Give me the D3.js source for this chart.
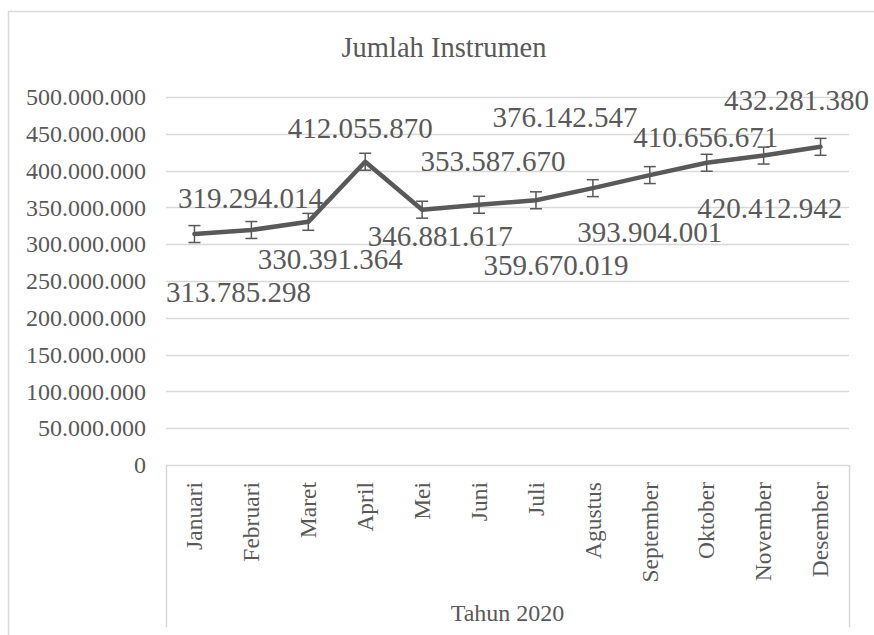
<!DOCTYPE html>
<html>
<head>
<meta charset="utf-8">
<script src="https://cdn.jsdelivr.net/npm/d3@7"></script>
<style>
  html, body { margin: 0; padding: 0; background: #ffffff; }
  svg text { font-family: "Liberation Serif", "Times New Roman", serif !important; }
</style>
</head>
<body>
<div id="chart"></div>
<script>
// Data
const months = ["Januari", "Februari", "Maret", "April", "Mei", "Juni", "Juli",
  "Agustus", "September", "Oktober", "November", "Desember"];
const instrumen = [313785298, 319294014, 330391364, 412055870, 346881617, 353587670,
  359670019, 376142547, 393904001, 410656671, 420412942, 432281380];
const errorAmount = [11500000];
const yTicks = [0, 50000000, 100000000, 150000000, 200000000, 250000000,
  300000000, 350000000, 400000000, 450000000, 500000000];
const chartTitle = "Jumlah Instrumen";
const xAxisTitle = "Tahun 2020";

// Data label nudges (pixels), labels were dragged by hand in the original
const labelShift = [[44, 58], [-1, -32], [22, 37], [-5, -34], [18, 26], [14, -44],
  [20, 65], [-28, -71], [0, 57], [-1, -26], [6, 52], [-24, -47]];

//==========================================
// Layout
//==========================================
const W = 874, H = 635;
const plot = { left: 166, right: 849, top: 97, bottom: 465 };
const ink = "#595959";
const grid = "#d9d9d9";
const serif = "'Liberation Serif', 'Times New Roman', serif";

const locale = d3.formatLocale({ decimal: ",", thousands: ".", grouping: [3], currency: ["", ""] });
const fmt = locale.format(",");

const svg = d3.select("#chart").append("svg")
  .attr("width", W)
  .attr("height", H)
  .attr("font-family", serif);

svg.append("rect")
  .attr("width", W).attr("height", H)
  .attr("fill", "#ffffff");

// Chart area border (runs off the right and bottom edges)
svg.append("rect")
  .attr("x", 8.5).attr("y", 11.5)
  .attr("width", 1000).attr("height", 1000)
  .attr("fill", "none")
  .attr("stroke", grid)
  .attr("stroke-width", 1.5);

const x = d3.scaleBand().domain(months).range([plot.left, plot.right]);
const y = d3.scaleLinear().domain([0, 500000000]).range([plot.bottom, plot.top]);
const cx = d => x(d) + x.bandwidth() / 2;

// Title
svg.append("text")
  .attr("x", 444).attr("y", 57)
  .attr("text-anchor", "middle")
  .attr("font-family", serif)
  .style("font-size", "28.5px")
  .attr("fill", ink)
  .text(chartTitle);

// Gridlines
svg.append("g")
  .selectAll("line")
  .data(yTicks)
  .enter().append("line")
  .attr("x1", plot.left).attr("x2", plot.right)
  .attr("y1", d => Math.round(y(d)) + 0.5)
  .attr("y2", d => Math.round(y(d)) + 0.5)
  .attr("stroke", grid)
  .attr("stroke-width", 1.5);

// Y axis labels
const yAxis = svg.append("g")
  .attr("transform", `translate(${plot.left - 20},0)`)
  .call(d3.axisLeft(y).tickValues(yTicks).tickSize(0).tickPadding(0).tickFormat(fmt))
  .attr("font-family", serif);
yAxis.select(".domain").remove();
yAxis.selectAll("text")
  .attr("fill", ink)
  .attr("font-family", serif)
  .style("font-size", "24px");

// Category axis box
const catBox = svg.append("g");
[plot.left, plot.right].forEach(px => {
  catBox.append("line")
    .attr("x1", px + 0.5).attr("x2", px + 0.5)
    .attr("y1", plot.bottom).attr("y2", 627)
    .attr("stroke", grid)
    .attr("stroke-width", 1.5);
});

catBox.selectAll(".cat")
  .data(months)
  .enter().append("text")
  .attr("class", "cat")
  .attr("transform", d => `translate(${cx(d)},482) rotate(-90)`)
  .attr("dy", "0.33em")
  .attr("text-anchor", "end")
  .attr("font-family", serif)
  .style("font-size", "23.5px")
  .attr("fill", ink)
  .text(d => d);

catBox.append("text")
  .attr("x", (plot.left + plot.right) / 2).attr("y", 621)
  .attr("text-anchor", "middle")
  .attr("font-family", serif)
  .style("font-size", "24px")
  .attr("fill", ink)
  .text(xAxisTitle);

// Series line
const line = d3.line()
  .x((d, i) => cx(months[i]))
  .y(d => y(d));

svg.append("path")
  .datum(instrumen)
  .attr("d", line)
  .attr("fill", "none")
  .attr("stroke", ink)
  .attr("stroke-width", 4.5)
  .attr("stroke-linejoin", "round")
  .attr("stroke-linecap", "round");

// Error bars
const err = errorAmount[0];
const bars = svg.append("g")
  .selectAll("g")
  .data(instrumen)
  .enter().append("g")
  .attr("stroke", ink)
  .attr("stroke-width", 1.5);

bars.append("line")
  .attr("x1", (d, i) => cx(months[i])).attr("x2", (d, i) => cx(months[i]))
  .attr("y1", d => y(d + err)).attr("y2", d => y(d - err));
bars.append("line")
  .attr("x1", (d, i) => cx(months[i]) - 6).attr("x2", (d, i) => cx(months[i]) + 6)
  .attr("y1", d => y(d + err)).attr("y2", d => y(d + err));
bars.append("line")
  .attr("x1", (d, i) => cx(months[i]) - 6).attr("x2", (d, i) => cx(months[i]) + 6)
  .attr("y1", d => y(d - err)).attr("y2", d => y(d - err));

// Data labels
svg.append("g")
  .selectAll("text")
  .data(instrumen)
  .enter().append("text")
  .attr("x", (d, i) => cx(months[i]) + labelShift[i][0])
  .attr("y", (d, i) => y(d) + labelShift[i][1])
  .attr("dy", "0.35em")
  .attr("text-anchor", "middle")
  .attr("font-family", serif)
  .style("font-size", "29px")
  .attr("fill", ink)
  .text(d => fmt(d));
</script>
</body>
</html>
